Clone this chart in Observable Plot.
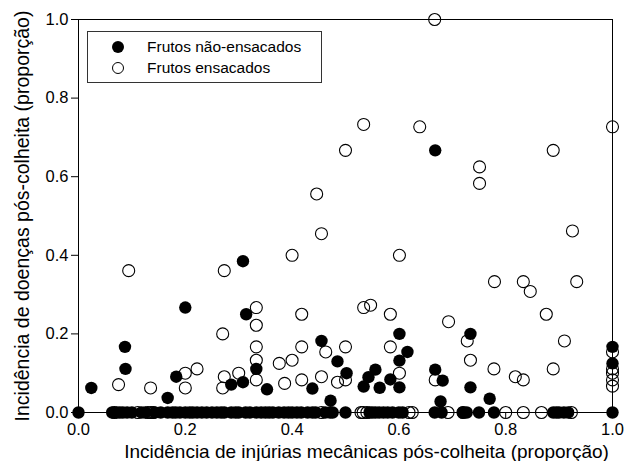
<!DOCTYPE html>
<html>
<head>
<meta charset="utf-8">
<script src="https://cdn.jsdelivr.net/npm/d3@7"></script>
<script src="https://cdn.jsdelivr.net/npm/@observablehq/plot@0.6"></script>
<style>
  body { margin: 0; background: #fff; }
  #wrap { position: relative; width: 626px; height: 461px; font-family: "Liberation Sans", Arial, sans-serif; }
  #legend { position: absolute; left: 87px; top: 31px; width: 235px; height: 52px; border: 1px solid #333; background: #fff; box-sizing: border-box; }
  .item { position: absolute; left: 0; font-size: 15.5px; color: #000; white-space: nowrap; }
  .sym { position: absolute; width: 12px; height: 12px; border-radius: 50%; box-sizing: border-box; }
  .lab { position: absolute; left: 59px; }
</style>
</head>
<body>
<div id="wrap"></div>
<script>
// ---- Data ----
const seriesNames = ["Frutos não-ensacados", "Frutos ensacados"];
const xLabel = "Incidência de injúrias mecânicas pós-colheita (proporção)";
const yLabel = "Incidência de doenças pós-colheita (proporção)";
const tickValues = [0, 0.2, 0.4, 0.6, 0.8, 1.0];

// Non-bagged fruits (filled), points above zero
const nonX = [0.024, 0.087, 0.088, 0.167, 0.183, 0.2, 0.286, 0.308, 0.308, 0.314, 0.333, 0.353, 0.438, 0.455, 0.472, 0.485, 0.502, 0.534, 0.543, 0.556, 0.564, 0.584, 0.601, 0.601, 0.601, 0.616, 0.668, 0.668, 0.682, 0.678, 0.734, 0.734, 0.77, 1.0, 1.0];
const nonY = [0.0625, 0.167, 0.111, 0.037, 0.091, 0.267, 0.071, 0.077, 0.385, 0.25, 0.111, 0.059, 0.061, 0.182, 0.03, 0.13, 0.1, 0.066, 0.09, 0.109, 0.063, 0.084, 0.2, 0.132, 0.064, 0.154, 0.667, 0.109, 0.081, 0.028, 0.2, 0.064, 0.035, 0.167, 0.125];
// Non-bagged fruits with zero disease
const nonZeroX = [0, 0.063, 0.071, 0.077, 0.083, 0.091, 0.1, 0.118, 0.125, 0.143, 0.154, 0.167, 0.176, 0.182, 0.19, 0.2, 0.208, 0.214, 0.222, 0.231, 0.24, 0.25, 0.259, 0.267, 0.273, 0.286, 0.294, 0.3, 0.313, 0.321, 0.333, 0.342, 0.35, 0.357, 0.364, 0.375, 0.385, 0.393, 0.4, 0.409, 0.417, 0.429, 0.438, 0.444, 0.462, 0.471, 0.476, 0.5, 0.545, 0.55, 0.556, 0.563, 0.571, 0.579, 0.588, 0.6, 0.607, 0.667, 0.68, 0.72, 0.727, 0.75, 0.778, 0.889, 0.895, 0.9, 0.909, 0.917, 1.0];

// Bagged fruits (open), points above zero
const bagX = [0.075, 0.094, 0.135, 0.2, 0.2, 0.222, 0.27, 0.273, 0.27, 0.273, 0.3, 0.333, 0.333, 0.333, 0.333, 0.333, 0.376, 0.386, 0.4, 0.4, 0.418, 0.418, 0.418, 0.446, 0.455, 0.455, 0.463, 0.485, 0.5, 0.5, 0.5, 0.534, 0.534, 0.547, 0.584, 0.584, 0.601, 0.601, 0.639, 0.667, 0.668, 0.693, 0.728, 0.734, 0.751, 0.751, 0.778, 0.779, 0.818, 0.833, 0.833, 0.846, 0.876, 0.889, 0.889, 0.91, 0.925, 0.933, 1.0, 1.0, 1.0, 1.0, 1.0, 1.0];
const bagY = [0.071, 0.361, 0.0625, 0.1, 0.0625, 0.111, 0.2, 0.091, 0.0625, 0.361, 0.1, 0.267, 0.222, 0.167, 0.133, 0.083, 0.125, 0.074, 0.133, 0.4, 0.25, 0.167, 0.083, 0.556, 0.455, 0.091, 0.154, 0.077, 0.667, 0.167, 0.083, 0.733, 0.267, 0.273, 0.25, 0.167, 0.4, 0.1, 0.727, 1.0, 0.083, 0.231, 0.182, 0.133, 0.625, 0.583, 0.111, 0.333, 0.091, 0.333, 0.083, 0.308, 0.25, 0.667, 0.111, 0.182, 0.462, 0.333, 0.727, 0.154, 0.111, 0.1, 0.083, 0.067];
// Bagged fruits with zero disease
const bagZeroX = [0.067, 0.111, 0.13, 0.136, 0.14, 0.455, 0.529, 0.533, 0.54, 0.619, 0.625, 0.692, 0.72, 0.8, 0.833, 0.867, 0.923];

// ---- Build tables ----
const nonBagged = nonX.map((x, i) => ({x, y: nonY[i]})).concat(nonZeroX.map(x => ({x, y: 0})));
const bagged = bagX.map((x, i) => ({x, y: bagY[i]})).concat(bagZeroX.map(x => ({x, y: 0})));

const chart = Plot.plot({
  width: 626,
  height: 461,
  marginLeft: 78,
  marginRight: 14,
  marginTop: 19,
  marginBottom: 49,
  style: {fontFamily: '"Liberation Sans", Arial, sans-serif', fontSize: "16.5px", color: "#000", background: "#fff", overflow: "visible"},
  x: {domain: [0, 1]},
  y: {domain: [0, 1]},
  marks: [
    Plot.frame({stroke: "#000", strokeWidth: 1}),
    Plot.axisX(tickValues, {tickSize: 6, tickPadding: 5, tickFormat: d3.format(".1f"), label: null, fontSize: 16.5}),
    Plot.axisY(tickValues, {tickSize: 7, tickPadding: 3, tickFormat: d3.format(".1f"), label: null, fontSize: 16.5}),
    Plot.dot(bagged, {x: "x", y: "y", r: 6, stroke: "#000", strokeWidth: 1.1, fill: "none"}),
    Plot.dot(nonBagged, {x: "x", y: "y", r: 6.2, fill: "#000", stroke: "none"}),
    Plot.text([xLabel], {frameAnchor: "bottom", lineAnchor: "middle", textAnchor: "middle", dy: 39.5, dx: 21, fontSize: 19, fill: "#000"}),
    Plot.text([yLabel], {frameAnchor: "left", lineAnchor: "middle", textAnchor: "middle", rotate: -90, dx: -56, fontSize: 19.5, fill: "#000"})
  ]
});

const wrap = document.getElementById("wrap");
wrap.appendChild(chart);

// Legend overlay
const legend = document.createElement("div");
legend.id = "legend";
const rows = [
  {name: seriesNames[0], top: 15, sym: "background:#000;"},
  {name: seriesNames[1], top: 36, sym: "border:1.1px solid #000;background:#fff;"}
];
for (const r of rows) {
  const item = document.createElement("div");
  item.className = "item";
  item.style.top = (r.top - 9) + "px";
  const s = document.createElement("div");
  s.className = "sym";
  s.setAttribute("style", r.sym + "left:24px;top:3px;");
  const t = document.createElement("span");
  t.className = "lab";
  t.textContent = r.name;
  item.appendChild(s);
  item.appendChild(t);
  legend.appendChild(item);
}
wrap.appendChild(legend);
</script>
</body>
</html>
